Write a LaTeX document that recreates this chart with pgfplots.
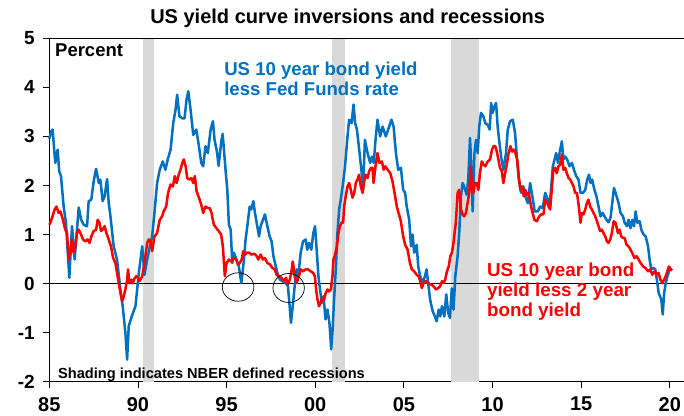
\documentclass[border=0pt]{standalone}
\usepackage{pgfplots}
\pgfplotsset{compat=1.18}
\usepackage{fontspec}
\setmainfont{Liberation Sans}
\usetikzlibrary{calc,shapes.geometric}
\definecolor{cblue}{HTML}{0070C0}
\definecolor{cred}{HTML}{FF0000}
\definecolor{cshade}{HTML}{D9D9D9}
\begin{document}
\begin{tikzpicture}
\begin{axis}[
 name=ax,
 scale only axis, width=634.7pt, height=343.4pt,
 xmin=1985, xmax=2020.8, ymin=-2, ymax=5,
 axis x line*=bottom, axis y line*=left,
 clip=false,
 xtick={1985,1990,...,2020}, xticklabels={85,90,95,00,05,10,15,20},
 ytick={-2,...,5}, yticklabels={-2,-1,0,1,2,3,4,5},
 tick align=outside, major tick length=6pt,
 tick style={black, line width=0.8pt},
 axis line style={black, line width=0.8pt},
 xticklabel style={font=\fontsize{20}{20}\selectfont\bfseries, yshift=-6pt},
 yticklabel style={font=\fontsize{19}{19}\selectfont\bfseries, xshift=-5pt},
]
% recessions
\addplot[fill=cshade, draw=none] coordinates {(1990.29,-2) (1990.29,5) (1990.93,5) (1990.93,-2)};
\addplot[fill=cshade, draw=none] coordinates {(2000.95,-2) (2000.95,5) (2001.69,5) (2001.69,-2)};
\addplot[fill=cshade, draw=none] coordinates {(2007.67,-2) (2007.67,5) (2009.23,5) (2009.23,-2)};
% zero line
\addplot[black, line width=0.6pt] coordinates {(1985,0) (2020.8,0)};
% blue: 10y less Fed funds
\addplot[cblue, line width=2.5pt, line join=round] coordinates {
(1985.00,2.95) (1985.10,3.10) (1985.19,3.14) (1985.27,2.75) (1985.34,2.46) (1985.47,2.73) (1985.56,2.29) (1985.66,2.19)
(1985.81,1.57) (1985.94,1.24) (1986.02,0.76) (1986.13,0.12) (1986.28,1.17) (1986.43,0.49) (1986.56,1.10) (1986.66,1.55)
(1986.80,1.30) (1986.94,1.20) (1987.13,1.17) (1987.22,1.68) (1987.37,1.71) (1987.50,2.08) (1987.64,2.34) (1987.79,2.05)
(1987.88,2.12) (1988.01,1.68) (1988.12,1.78) (1988.26,2.13) (1988.35,1.65) (1988.45,1.37) (1988.63,0.76) (1988.82,0.49)
(1989.01,-0.12) (1989.14,-0.46) (1989.29,-1.00) (1989.39,-1.55) (1989.48,-0.87) (1989.63,-0.69) (1989.76,-0.56) (1989.86,-0.46)
(1990.05,0.22) (1990.24,0.76) (1990.37,0.18) (1990.52,0.49) (1990.67,0.76) (1990.80,0.96) (1990.93,1.44) (1991.08,2.05)
(1991.23,2.32) (1991.40,2.49) (1991.55,2.32) (1991.68,2.53) (1991.84,2.73) (1991.99,3.27) (1992.12,3.54) (1992.21,3.85)
(1992.34,3.41) (1992.50,3.37) (1992.63,3.37) (1992.74,3.75) (1992.84,3.92) (1992.97,3.54) (1993.12,3.03) (1993.29,3.14)
(1993.44,2.80) (1993.57,2.46) (1993.68,2.39) (1993.81,2.80) (1993.94,2.66) (1994.10,3.14) (1994.23,3.31) (1994.32,2.93)
(1994.45,2.70) (1994.55,2.40) (1994.70,2.90) (1994.78,3.05) (1994.85,2.73) (1994.94,2.32) (1995.04,1.91) (1995.13,1.20)
(1995.23,1.10) (1995.32,0.42) (1995.41,0.63) (1995.56,0.49) (1995.69,0.35) (1995.83,0.01) (1995.98,0.49) (1996.07,0.90)
(1996.17,1.17) (1996.30,1.57) (1996.39,1.51) (1996.51,1.68) (1996.60,1.44) (1996.73,1.17) (1996.83,0.96) (1996.92,1.17)
(1997.05,1.30) (1997.16,1.41) (1997.30,1.17) (1997.43,0.96) (1997.54,0.86) (1997.64,0.56) (1997.73,0.42) (1997.86,0.22)
(1998.01,0.08) (1998.15,0.05) (1998.33,0.01) (1998.46,-0.05) (1998.54,-0.39) (1998.63,-0.80) (1998.75,-0.39) (1998.84,-0.05)
(1998.95,0.29) (1999.05,0.18) (1999.18,0.63) (1999.31,0.86) (1999.46,0.90) (1999.55,0.69) (1999.65,0.83) (1999.78,0.69)
(1999.89,1.03) (1999.99,1.17) (2000.08,0.69) (2000.18,0.15) (2000.27,-0.12) (2000.37,-0.39) (2000.47,-0.26) (2000.58,-0.73)
(2000.69,-0.53) (2000.80,-0.80) (2000.90,-1.34) (2000.98,-0.94) (2001.06,-0.33) (2001.16,0.29) (2001.25,1.03) (2001.35,1.51)
(2001.44,1.71) (2001.57,2.05) (2001.68,2.39) (2001.82,3.00) (2001.91,3.34) (2002.05,3.27) (2002.16,3.65) (2002.25,3.27)
(2002.35,3.14) (2002.48,2.73) (2002.61,2.29) (2002.70,1.91) (2002.80,2.93) (2002.91,2.73) (2003.00,2.59) (2003.10,2.46)
(2003.20,2.59) (2003.30,2.46) (2003.40,2.93) (2003.51,3.34) (2003.66,3.00) (2003.80,3.20) (2003.98,3.00) (2004.17,3.20)
(2004.30,3.34) (2004.42,3.20) (2004.55,2.66) (2004.68,2.32) (2004.83,2.36) (2004.96,1.91) (2005.07,1.85) (2005.16,1.57)
(2005.30,1.30) (2005.40,0.76) (2005.49,1.00) (2005.58,0.63) (2005.72,0.79) (2005.81,0.35) (2005.92,0.15) (2006.06,0.01)
(2006.19,0.15) (2006.28,0.29) (2006.37,0.01) (2006.48,-0.33) (2006.62,-0.56) (2006.75,-0.67) (2006.85,-0.77) (2006.96,-0.53)
(2007.05,-0.67) (2007.15,-0.46) (2007.28,-0.67) (2007.39,-0.22) (2007.50,-0.60) (2007.60,-0.70) (2007.70,-0.10) (2007.80,-0.53)
(2007.90,0.15) (2008.03,0.56) (2008.12,1.03) (2008.22,1.78) (2008.31,2.05) (2008.40,1.98) (2008.54,1.81) (2008.63,2.12)
(2008.73,2.97) (2008.81,2.32) (2008.88,1.47) (2008.98,2.66) (2009.07,2.93) (2009.16,2.66) (2009.25,3.20) (2009.35,3.48)
(2009.48,3.41) (2009.59,3.27) (2009.72,3.24) (2009.84,3.14) (2009.92,3.68) (2010.01,3.48) (2010.11,3.61) (2010.20,3.68)
(2010.29,3.20) (2010.39,2.87) (2010.48,2.59) (2010.61,2.32) (2010.76,2.66) (2010.86,3.14) (2010.99,3.31) (2011.14,3.34)
(2011.27,3.07) (2011.37,2.59) (2011.48,2.12) (2011.61,1.85) (2011.74,1.98) (2011.85,1.78) (2011.99,1.64) (2012.12,2.05)
(2012.26,1.75) (2012.38,1.47) (2012.55,1.47) (2012.69,1.57) (2012.83,1.54) (2012.97,1.85) (2013.08,1.75) (2013.21,1.57)
(2013.30,1.91) (2013.40,2.39) (2013.50,2.53) (2013.59,2.66) (2013.69,2.46) (2013.78,2.66) (2013.91,2.90) (2014.00,2.53)
(2014.10,2.59) (2014.21,2.53) (2014.34,2.39) (2014.48,2.46) (2014.59,2.32) (2014.72,2.19) (2014.85,2.12) (2014.96,1.85)
(2015.10,1.85) (2015.23,1.91) (2015.34,2.12) (2015.44,2.22) (2015.53,2.05) (2015.62,2.12) (2015.75,1.91) (2015.86,1.78)
(2015.98,1.57) (2016.09,1.37) (2016.21,1.44) (2016.32,1.37) (2016.43,1.30) (2016.54,1.25) (2016.66,1.35) (2016.75,1.64)
(2016.85,1.95) (2016.94,1.85) (2017.11,1.64) (2017.22,1.44) (2017.36,1.37) (2017.45,1.24) (2017.58,1.17) (2017.67,1.30)
(2017.78,1.13) (2017.88,1.30) (2017.98,1.17) (2018.07,1.47) (2018.17,1.24) (2018.30,1.27) (2018.39,1.10) (2018.52,1.00)
(2018.64,0.96) (2018.77,0.76) (2018.86,0.49) (2018.95,0.29) (2019.07,0.32) (2019.18,0.29) (2019.27,0.08) (2019.37,-0.19)
(2019.45,-0.26) (2019.52,-0.33) (2019.60,-0.63) (2019.68,-0.19) (2019.77,0.01) (2019.87,0.15) (2019.99,0.29) (2020.08,0.32)
};
% red: 10y less 2y
\addplot[cred, line width=2.5pt, line join=round] coordinates {
(1985.00,1.20) (1985.06,1.24) (1985.18,1.37) (1985.30,1.51) (1985.40,1.57) (1985.53,1.44) (1985.63,1.47) (1985.77,1.30)
(1985.90,1.10) (1986.00,1.03) (1986.09,0.49) (1986.18,0.63) (1986.28,0.90) (1986.37,0.63) (1986.47,0.76) (1986.56,1.03)
(1986.66,1.10) (1986.79,1.00) (1986.90,0.90) (1987.03,0.86) (1987.16,0.90) (1987.27,0.83) (1987.37,0.96) (1987.50,1.07)
(1987.64,1.10) (1987.73,1.30) (1987.83,1.24) (1987.92,1.07) (1988.01,1.10) (1988.12,1.17) (1988.22,1.03) (1988.35,0.90)
(1988.48,0.76) (1988.60,0.52) (1988.73,0.42) (1988.82,0.22) (1988.92,0.01) (1989.01,-0.19) (1989.11,-0.36) (1989.20,-0.26)
(1989.29,-0.12) (1989.39,0.08) (1989.44,0.29) (1989.52,0.01) (1989.63,0.08) (1989.71,0.01) (1989.80,0.10) (1989.90,0.15)
(1989.99,0.12) (1990.10,0.05) (1990.24,0.15) (1990.37,0.42) (1990.52,0.83) (1990.62,0.90) (1990.71,0.86) (1990.80,0.66)
(1990.93,0.96) (1991.08,1.03) (1991.23,1.30) (1991.36,1.37) (1991.45,1.47) (1991.59,1.57) (1991.70,1.85) (1991.84,2.02)
(1991.97,1.98) (1992.08,2.19) (1992.18,2.05) (1992.30,2.22) (1992.40,2.32) (1992.50,2.46) (1992.59,2.53) (1992.69,2.39)
(1992.78,2.15) (1992.91,2.12) (1993.02,2.15) (1993.12,2.05) (1993.21,2.19) (1993.31,1.88) (1993.44,1.75) (1993.57,1.61)
(1993.68,1.44) (1993.81,1.57) (1993.94,1.54) (1994.05,1.54) (1994.15,1.44) (1994.28,1.20) (1994.42,1.13) (1994.56,1.07)
(1994.69,1.00) (1994.79,0.76) (1994.85,0.42) (1994.90,0.15) (1995.00,0.42) (1995.13,0.49) (1995.26,0.45) (1995.41,0.52)
(1995.54,0.49) (1995.64,0.39) (1995.74,0.42) (1995.85,0.49) (1995.94,0.66) (1996.04,0.59) (1996.13,0.63) (1996.27,0.63)
(1996.40,0.59) (1996.55,0.61) (1996.68,0.57) (1996.79,0.49) (1996.92,0.59) (1997.05,0.49) (1997.16,0.52) (1997.30,0.42)
(1997.45,0.39) (1997.58,0.32) (1997.71,0.29) (1997.82,0.18) (1997.95,0.15) (1998.09,0.12) (1998.24,0.05) (1998.35,0.12)
(1998.46,-0.02) (1998.56,0.08) (1998.65,0.22) (1998.73,0.45) (1998.80,0.29) (1998.84,0.15) (1998.95,0.01) (1999.08,0.15)
(1999.18,0.29) (1999.31,0.25) (1999.46,0.29) (1999.59,0.29) (1999.74,0.25) (1999.88,0.22) (1999.98,0.15) (2000.05,-0.12)
(2000.13,-0.33) (2000.21,-0.46) (2000.31,-0.39) (2000.40,-0.29) (2000.50,-0.33) (2000.59,-0.19) (2000.69,-0.12) (2000.78,-0.16)
(2000.88,-0.12) (2000.97,0.15) (2001.03,0.49) (2001.12,0.59) (2001.22,0.76) (2001.31,1.03) (2001.39,1.17) (2001.48,1.24)
(2001.57,1.24) (2001.63,1.57) (2001.72,1.78) (2001.82,1.98) (2001.91,2.05) (2002.01,1.91) (2002.10,1.75) (2002.20,1.85)
(2002.29,2.05) (2002.38,2.12) (2002.47,2.22) (2002.57,1.98) (2002.67,1.85) (2002.76,2.08) (2002.85,2.22) (2002.95,2.15)
(2003.04,2.29) (2003.14,2.36) (2003.23,2.36) (2003.29,2.05) (2003.40,2.39) (2003.51,2.66) (2003.62,2.46) (2003.76,2.49)
(2003.86,2.32) (2003.95,2.39) (2004.08,2.32) (2004.23,2.25) (2004.36,2.08) (2004.49,1.81) (2004.60,1.57) (2004.70,1.44)
(2004.83,1.27) (2004.96,0.96) (2005.07,0.79) (2005.21,0.69) (2005.34,0.42) (2005.45,0.29) (2005.58,0.25) (2005.72,0.18)
(2005.83,0.15) (2005.92,0.05) (2006.01,-0.09) (2006.11,0.01) (2006.24,0.05) (2006.37,0.01) (2006.53,-0.02) (2006.66,-0.05)
(2006.81,-0.12) (2006.94,-0.09) (2007.05,-0.05) (2007.15,0.05) (2007.24,0.01) (2007.33,0.08) (2007.43,0.25) (2007.53,0.35)
(2007.62,0.56) (2007.71,0.63) (2007.80,0.83) (2007.88,1.10) (2007.93,1.24) (2008.03,1.85) (2008.12,1.91) (2008.22,1.51)
(2008.31,1.41) (2008.40,1.37) (2008.50,1.44) (2008.59,1.64) (2008.69,1.85) (2008.77,2.39) (2008.85,1.91) (2008.92,1.85)
(2009.01,2.05) (2009.11,2.05) (2009.20,1.91) (2009.29,2.25) (2009.39,2.49) (2009.50,2.42) (2009.59,2.39) (2009.73,2.49)
(2009.86,2.53) (2009.97,2.73) (2010.06,2.80) (2010.16,2.80) (2010.24,2.69) (2010.33,2.53) (2010.42,2.36) (2010.52,2.29)
(2010.61,2.05) (2010.71,2.25) (2010.80,2.42) (2010.89,2.63) (2011.01,2.80) (2011.11,2.69) (2011.20,2.73) (2011.29,2.66)
(2011.39,2.53) (2011.48,2.19) (2011.57,1.91) (2011.67,1.98) (2011.76,1.78) (2011.85,1.91) (2011.95,1.81) (2012.04,1.85)
(2012.14,1.64) (2012.22,1.50) (2012.36,1.30) (2012.50,1.27) (2012.63,1.37) (2012.74,1.41) (2012.87,1.41) (2012.97,1.71)
(2013.06,1.68) (2013.16,1.57) (2013.25,1.51) (2013.34,1.91) (2013.43,2.32) (2013.53,2.36) (2013.62,2.25) (2013.72,2.39)
(2013.81,2.42) (2013.91,2.63) (2014.00,2.32) (2014.10,2.36) (2014.19,2.25) (2014.29,2.15) (2014.38,2.12) (2014.48,2.05)
(2014.57,1.98) (2014.66,1.85) (2014.76,1.85) (2014.87,1.57) (2014.96,1.24) (2015.04,1.44) (2015.13,1.41) (2015.23,1.51)
(2015.32,1.64) (2015.41,1.71) (2015.51,1.57) (2015.60,1.51) (2015.70,1.44) (2015.79,1.37) (2015.89,1.27) (2015.98,1.17)
(2016.07,1.07) (2016.17,1.10) (2016.26,1.03) (2016.36,0.96) (2016.45,0.86) (2016.54,0.83) (2016.64,0.90) (2016.73,1.03)
(2016.83,1.27) (2016.94,1.24) (2017.07,1.03) (2017.16,1.10) (2017.26,0.96) (2017.36,0.93) (2017.45,0.93) (2017.56,0.79)
(2017.67,0.76) (2017.79,0.69) (2017.92,0.59) (2018.01,0.52) (2018.12,0.56) (2018.24,0.49) (2018.35,0.42) (2018.49,0.35)
(2018.62,0.32) (2018.77,0.25) (2018.90,0.29) (2019.01,0.18) (2019.14,0.25) (2019.25,0.18) (2019.36,0.22) (2019.47,0.08)
(2019.58,0.01) (2019.68,0.08) (2019.77,0.15) (2019.86,0.25) (2019.95,0.35) (2020.04,0.29) (2020.14,0.27)
};
% circles
\node[draw=black, line width=0.7pt, ellipse, minimum width=31.6pt, minimum height=28.4pt, inner sep=0pt] at (axis cs:1995.65,-0.07) {};
\node[draw=black, line width=0.7pt, ellipse, minimum width=31.4pt, minimum height=29pt, inner sep=0pt] at (axis cs:1998.50,-0.09) {};
% top border
\draw[black, line width=0.8pt] (rel axis cs:0,1) -- (rel axis cs:1,1);
% texts
\node[anchor=base west, inner sep=0pt, font=\fontsize{18.5}{18.5}\selectfont\bfseries] at (axis cs:1985.32,4.625) {Percent};
\node[anchor=base west, inner sep=0pt, text=cblue, font=\fontsize{18.6}{18.6}\selectfont\bfseries] at (axis cs:1994.86,4.25) {US 10 year bond yield};
\node[anchor=base west, inner sep=0pt, text=cblue, font=\fontsize{18.6}{18.6}\selectfont\bfseries] at (axis cs:1994.86,3.84) {less Fed Funds rate};
\node[anchor=base west, inner sep=0pt, text=cred, font=\fontsize{18.8}{18.8}\selectfont\bfseries] at (axis cs:2009.68,0.14) {US 10 year bond};
\node[anchor=base west, inner sep=0pt, text=cred, font=\fontsize{18.8}{18.8}\selectfont\bfseries] at (axis cs:2009.68,-0.27) {yield less 2 year};
\node[anchor=base west, inner sep=0pt, text=cred, font=\fontsize{18.8}{18.8}\selectfont\bfseries] at (axis cs:2009.68,-0.67) {bond yield};
\node[anchor=base west, inner sep=0pt, font=\fontsize{14.6}{14.6}\selectfont\bfseries] at (axis cs:1985.49,-1.93) {Shading indicates NBER defined recessions};
\coordinate (ttl) at (rel axis cs:0.47,1);
\end{axis}
\node[anchor=base, inner sep=0pt, font=\fontsize{20}{20}\selectfont\bfseries] at ($(ttl)+(0,14.3pt)$) {US yield curve inversions and recessions};
\pgfresetboundingbox
\path[use as bounding box] ($(ax.south west)+(-49.3pt,-34.3pt)$) rectangle ($(ax.north east)+(0pt,38.3pt)$);
\end{tikzpicture}
\end{document}
